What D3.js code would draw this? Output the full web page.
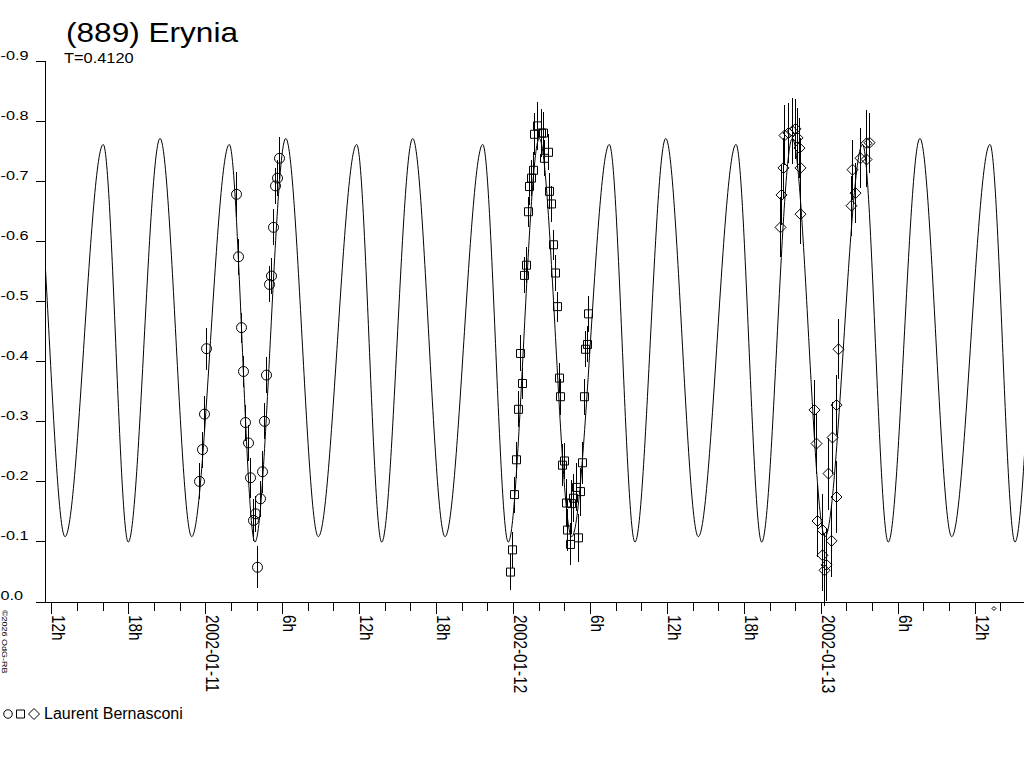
<!DOCTYPE html>
<html>
  <head>
    <meta charset="utf-8" />
    <title>(889) Erynia</title>
    <script src="https://cdnjs.cloudflare.com/ajax/libs/d3/7.8.5/d3.min.js"></script>
    <style>
      body {
        margin: 0;
        background: #fff;
      }
      svg {
        display: block;
        font-family: "Liberation Sans", Arial, sans-serif;
      }
      .axis line,
      .axis-line {
        stroke: #000;
        stroke-width: 1px;
        shape-rendering: crispEdges;
      }
      .fit {
        fill: none;
        stroke: #000;
        stroke-width: 1px;
      }
      .errbar {
        stroke: #000;
        stroke-width: 1px;
        shape-rendering: crispEdges;
      }
      .mark {
        fill: none;
        stroke: #000;
        stroke-width: 1px;
      }
    </style>
  </head>
  <body>
    <svg id="chart" width="1024" height="768"></svg>
    <script>
      const title = "(889) Erynia";
      const periodLabel = "T=0.4120";
      const observer = "Laurent Bernasconi";
      const credit = "\u00a92026 OdG-RB";

      // all times are hours from 2002-01-11 00:00 UT
      // fitted lightcurve, read at its maxima and minima (one extra each side of the frame)
      const fitHours = [
        -15.87, -13.4, -10.93, -7.95, -6.0, -3.52, -1.05, 1.88, 3.88, 6.28,
        8.82, 11.81, 13.76, 16.18, 18.7, 21.64, 23.63, 26.05, 28.58, 31.51,
        33.51, 35.91, 38.45, 41.39, 43.39, 45.78, 48.33, 51.26, 53.26, 55.73,
        58.21, 61.19, 63.14, 65.61, 68.08,
      ];
      const fitMags = [
        -0.099, -0.771, -0.108, -0.761, -0.099, -0.771, -0.108, -0.761,
        -0.099, -0.771, -0.108, -0.761, -0.099, -0.771, -0.108, -0.761,
        -0.099, -0.771, -0.108, -0.761, -0.099, -0.771, -0.108, -0.761,
        -0.099, -0.771, -0.108, -0.761, -0.099, -0.771, -0.108, -0.761,
        -0.099, -0.771, -0.108,
      ];

      // observations: [hours, relative mag, error]
      const night1 = [
        [5.78, -0.738, 0.035], [5.62, -0.705, 0.03], [5.47, -0.692, 0.03],
        [2.4, -0.678, 0.037], [5.31, -0.623, 0.03], [2.58, -0.574, 0.03],
        [5.11, -0.542, 0.03], [4.95, -0.528, 0.03], [2.79, -0.456, 0.025],
        [0.06, -0.421, 0.035], [2.97, -0.383, 0.025], [4.74, -0.377, 0.03],
        [-0.09, -0.312, 0.03], [3.13, -0.298, 0.03], [4.58, -0.3, 0.03],
        [-0.25, -0.253, 0.03], [3.31, -0.264, 0.03], [-0.46, -0.2, 0.03],
        [4.41, -0.216, 0.035], [3.49, -0.206, 0.033], [4.25, -0.171, 0.03],
        [3.86, -0.146, 0.03], [3.7, -0.135, 0.035], [4.06, -0.057, 0.035],
      ];
      const night2 = [
        [25.85, -0.792, 0.04], [25.66, -0.778, 0.035], [26.16, -0.78, 0.04],
        [26.36, -0.78, 0.035], [26.71, -0.748, 0.03], [26.42, -0.738, 0.03],
        [25.58, -0.718, 0.03], [25.4, -0.705, 0.03], [25.27, -0.691, 0.03],
        [26.81, -0.683, 0.03], [26.96, -0.662, 0.03], [25.17, -0.649, 0.025],
        [27.1, -0.594, 0.025], [25.01, -0.56, 0.03], [24.86, -0.543, 0.03],
        [27.28, -0.547, 0.03], [27.43, -0.491, 0.025], [29.85, -0.479, 0.03],
        [29.75, -0.428, 0.03], [29.61, -0.42, 0.03], [24.55, -0.413, 0.03],
        [24.7, -0.363, 0.025], [27.56, -0.372, 0.025], [27.69, -0.341, 0.03],
        [29.51, -0.341, 0.03], [24.39, -0.32, 0.03], [24.23, -0.236, 0.03],
        [28.0, -0.234, 0.03], [27.84, -0.227, 0.035], [29.38, -0.231, 0.035],
        [24.08, -0.178, 0.03], [28.11, -0.164, 0.04], [28.52, -0.163, 0.04],
        [28.7, -0.172, 0.04], [29.25, -0.183, 0.04], [28.91, -0.19, 0.04],
        [28.19, -0.119, 0.035], [28.44, -0.095, 0.035], [29.04, -0.106, 0.04],
        [23.9, -0.086, 0.03], [23.79, -0.049, 0.03],
      ];
      const night3 = [
        [45.13, -0.776, 0.05], [45.47, -0.78, 0.05], [45.73, -0.783, 0.055],
        [45.99, -0.787, 0.05], [46.12, -0.772, 0.05], [46.32, -0.755, 0.05],
        [45.03, -0.722, 0.05], [46.38, -0.722, 0.05], [44.9, -0.677, 0.05],
        [46.38, -0.645, 0.05], [44.82, -0.623, 0.05], [51.79, -0.764, 0.05],
        [51.5, -0.763, 0.055], [51.5, -0.736, 0.045], [51.06, -0.738, 0.05],
        [50.41, -0.719, 0.05], [50.67, -0.68, 0.05], [50.35, -0.659, 0.05],
        [49.36, -0.42, 0.05], [49.21, -0.327, 0.05], [47.45, -0.319, 0.05],
        [47.65, -0.263, 0.05], [48.85, -0.273, 0.06], [48.58, -0.213, 0.06],
        [49.16, -0.174, 0.06], [47.73, -0.134, 0.06], [48.07, -0.119, 0.06],
        [48.8, -0.101, 0.06], [48.07, -0.077, 0.06], [48.41, -0.061, 0.06],
        [48.27, -0.052, 0.06],
      ];

      const magTicks = [0, -0.1, -0.2, -0.3, -0.4, -0.5, -0.6, -0.7, -0.8, -0.9];
      const markerHour = 61.5;

      const t0 = Date.UTC(2002, 0, 11);
      const toDate = (h) => new Date(t0 + h * 3600e3);

      const svg = d3.select("#chart");

      const x = d3
        .scaleUtc()
        .domain([toDate(-12), toDate(60)])
        .range([51.3, 974.7]);
      const y = d3.scaleLinear().domain([0, -0.9]).range([601.5, 61]);

      // Y axis
      const yAxis = svg
        .append("g")
        .attr("class", "axis")
        .attr("transform", "translate(45,0)")
        .attr("font-family", null)
        .attr("font-size", null)
        .call(
          d3
            .axisLeft(y)
            .tickValues(magTicks)
            .tickSize(9)
            .tickSizeOuter(0)
            .tickFormat((d) => d.toFixed(1))
        );
      yAxis.select(".domain").remove();
      yAxis
        .selectAll(".tick text")
        .attr("x", 0)
        .attr("y", 0)
        .attr("dy", null)
        .attr("text-anchor", "start")
        .attr("transform", "translate(-44.5,-2) scale(1.3,1)")
        .style("font-size", "12.5px")
        .attr("fill", "#000");

      svg
        .append("line")
        .attr("class", "axis-line")
        .attr("x1", 45.5)
        .attr("x2", 45.5)
        .attr("y1", y(-0.9))
        .attr("y2", 602);

      // X axis: ticks every 2h, labels every 6h
      const hourTicks = d3.utcHour.every(2).range(x.invert(36), x.invert(1024));
      const xAxis = svg
        .append("g")
        .attr("class", "axis")
        .attr("transform", "translate(0,602)")
        .attr("font-family", null)
        .attr("font-size", null)
        .call(
          d3
            .axisBottom(x)
            .tickValues(hourTicks)
            .tickSize(9)
            .tickSizeOuter(0)
            .tickFormat((d) => {
              const h = d.getUTCHours();
              if (h % 6) return "";
              return h ? h + "h" : d3.utcFormat("%Y-%m-%d")(d);
            })
        );
      xAxis.select(".domain").remove();
      xAxis
        .selectAll(".tick line")
        .attr("y2", (d) => (d.getUTCHours() % 6 ? 9 : 12));
      xAxis
        .selectAll(".tick text")
        .attr("x", 0)
        .attr("y", 0)
        .attr("dy", null)
        .attr("text-anchor", "start")
        .attr("transform", "translate(0.5,13) rotate(90) scale(0.85,1)")
        .style("font-size", "18px")
        .attr("fill", "#000");

      svg
        .append("line")
        .attr("class", "axis-line")
        .attr("x1", 36)
        .attr("x2", 1024)
        .attr("y1", 602.5)
        .attr("y2", 602.5);

      // Fitted lightcurve
      svg
        .append("clipPath")
        .attr("id", "plot-area")
        .append("rect")
        .attr("x", 45)
        .attr("y", 0)
        .attr("width", 979)
        .attr("height", 602);

      const fitLine = d3
        .line()
        .x((d) => x(toDate(d[0])))
        .y((d) => y(d[1]))
        .curve(d3.curveMonotoneX);

      svg
        .append("path")
        .datum(d3.zip(fitHours, fitMags))
        .attr("class", "fit")
        .attr("clip-path", "url(#plot-area)")
        .attr("d", fitLine);

      // Observations with error bars
      const circlePath = d3.symbol(d3.symbolCircle, Math.PI * 25)();
      const squarePath = d3.symbol(d3.symbolSquare, 64)();
      const diamondPath = "M0,-5.5L5.5,0L0,5.5L-5.5,0Z";

      function drawNight(data, shape) {
        const g = svg.append("g");
        g.selectAll("line")
          .data(data)
          .enter()
          .append("line")
          .attr("class", "errbar")
          .attr("x1", (d) => Math.round(x(toDate(d[0]))) + 0.5)
          .attr("x2", (d) => Math.round(x(toDate(d[0]))) + 0.5)
          .attr("y1", (d) => y(d[1] - d[2]))
          .attr("y2", (d) => y(d[1] + d[2]));
        g.selectAll("path")
          .data(data)
          .enter()
          .append("path")
          .attr("class", "mark")
          .attr("d", shape)
          .attr(
            "transform",
            (d) => `translate(${Math.round(x(toDate(d[0]))) + 0.5},${y(d[1])})`
          );
      }

      drawNight(night1, circlePath);
      drawNight(night2, squarePath);
      drawNight(night3, diamondPath);

      // small marker under the axis
      svg
        .append("path")
        .attr("class", "mark")
        .attr("d", "M0,-2L2,0L0,2L-2,0Z")
        .attr("transform", `translate(${x(toDate(markerHour))},608.5)`);

      // Titles
      svg
        .append("text")
        .attr("transform", "translate(66,42) scale(1.17,1)")
        .style("font-size", "27px")
        .text(title);

      svg
        .append("text")
        .attr("transform", "translate(64,63) scale(1.17,1)")
        .style("font-size", "14px")
        .text(periodLabel);

      svg
        .append("text")
        .attr("transform", "translate(1.5,610) rotate(90) scale(1.2,1)")
        .style("font-size", "7.5px")
        .text(credit);

      // Legend
      const legend = svg.append("g").attr("transform", "translate(0,714)");
      legend
        .append("path")
        .attr("class", "mark")
        .attr("d", d3.symbol(d3.symbolCircle, Math.PI * 18)())
        .attr("transform", "translate(8,0)");
      legend
        .append("path")
        .attr("class", "mark")
        .attr("d", squarePath)
        .attr("transform", "translate(20.5,0)");
      legend
        .append("path")
        .attr("class", "mark")
        .attr("d", diamondPath)
        .attr("transform", "translate(34,0)");
      legend
        .append("text")
        .attr("x", 44)
        .attr("y", 5)
        .style("font-size", "16px")
        .text(observer);
    </script>
  </body>
</html>
